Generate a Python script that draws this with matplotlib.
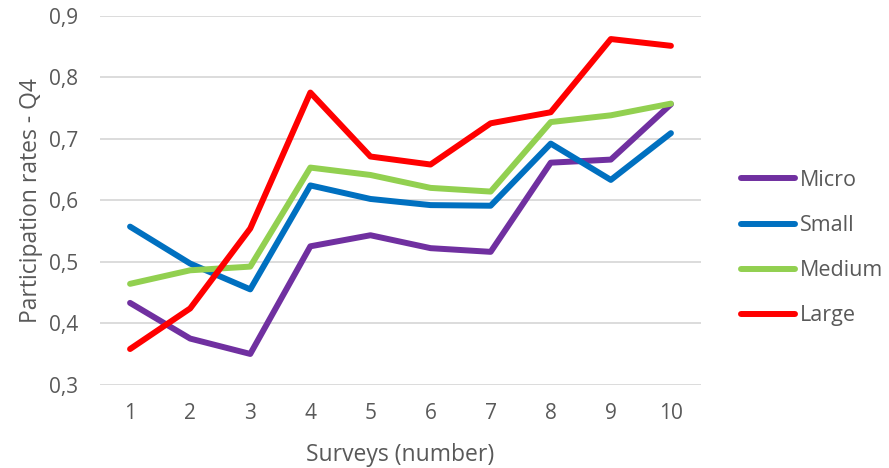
import matplotlib
matplotlib.use("Agg")
import matplotlib.pyplot as plt

surveys = [1, 2, 3, 4, 5, 6, 7, 8, 9, 10]
micro = [0.433, 0.375, 0.350, 0.525, 0.543, 0.522, 0.516, 0.661, 0.666, 0.756]
small = [0.557, 0.497, 0.455, 0.624, 0.602, 0.592, 0.591, 0.692, 0.633, 0.709]
medium = [0.464, 0.486, 0.492, 0.653, 0.641, 0.620, 0.614, 0.727, 0.738, 0.757]
large = [0.358, 0.424, 0.554, 0.775, 0.671, 0.658, 0.725, 0.743, 0.862, 0.851]
yticks = [0.3, 0.4, 0.5, 0.6, 0.7, 0.8, 0.9]

plt.rcParams['font.family'] = ['Open Sans', 'DejaVu Sans']
textColor = '#595959'

fig = plt.figure(figsize=(8.89, 4.68), dpi=100)
ax = fig.add_axes([0.1125, 0.178, 0.676, 0.7885])

ax.plot(surveys, micro, color='#7030A0', lw=4.3, label='Micro', solid_capstyle='round')
ax.plot(surveys, small, color='#0070C0', lw=4.3, label='Small', solid_capstyle='round')
ax.plot(surveys, medium, color='#92D050', lw=4.3, label='Medium', solid_capstyle='round')
ax.plot(surveys, large, color='#FF0000', lw=4.3, label='Large', solid_capstyle='round')

ax.set_xlim(0.5, 10.5)
ax.set_ylim(0.3, 0.9)
ax.set_xticks(surveys)
ax.set_yticks(yticks)
ax.set_yticklabels([f"{v:.1f}".replace('.', ',') for v in yticks])
ax.grid(axis='y', color='#D9D9D9', lw=1.3)
ax.set_axisbelow(True)
for s in ax.spines.values():
    s.set_visible(False)
ax.tick_params(length=0, labelsize=15, labelcolor=textColor)
ax.tick_params(axis='y', pad=16)
ax.tick_params(axis='x', pad=13)

ax.set_xlabel("Surveys (number)", fontsize=16.5, color=textColor, labelpad=13.5)
ax.set_ylabel("Participation rates - Q4", fontsize=16.5, color=textColor, labelpad=4)

ax.legend(loc='center left', bbox_to_anchor=(1.035, 0.37), frameon=False, fontsize=15.5,
          labelcolor=textColor, handlelength=2.5, handletextpad=0.2, labelspacing=1.12)

fig.savefig("out.png", dpi=100)
